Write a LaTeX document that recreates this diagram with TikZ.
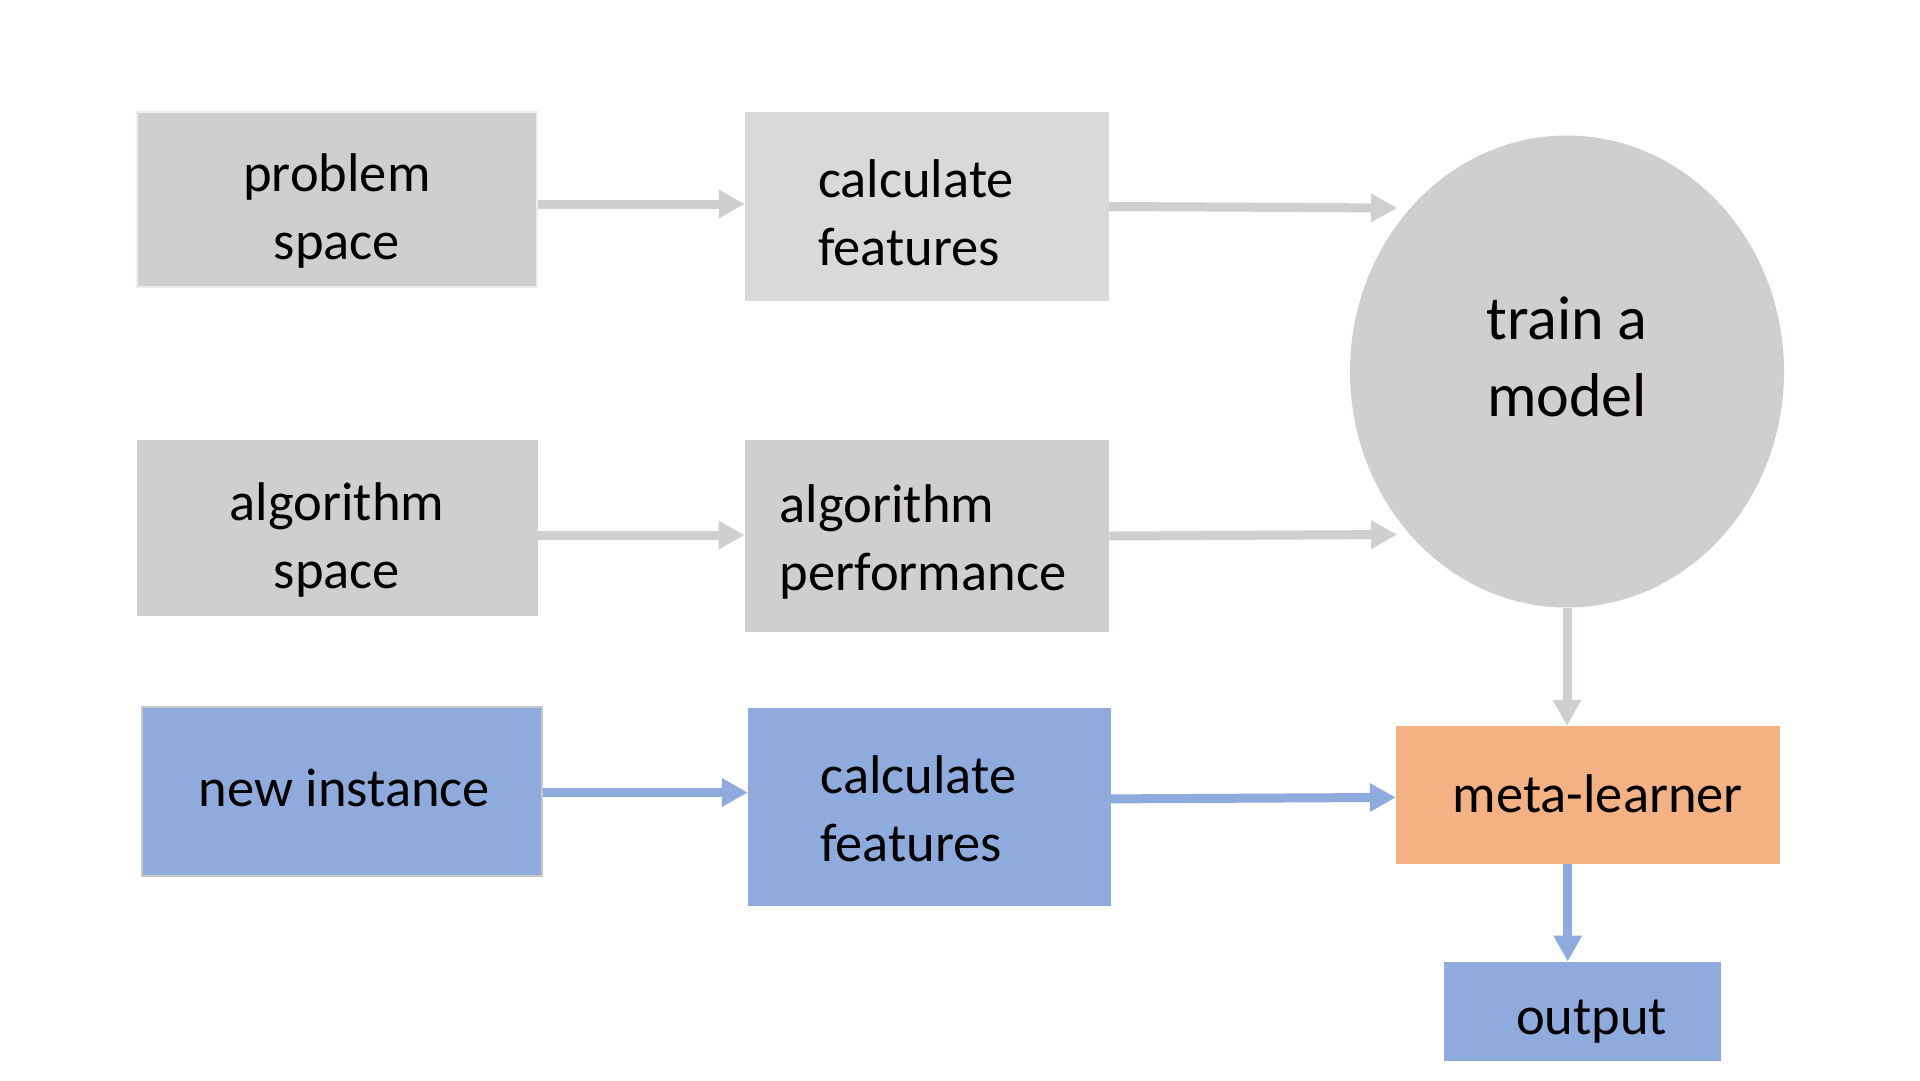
\documentclass[tikz,border=0pt]{standalone}
\usepackage{fontspec}
\setmainfont{Carlito}
\usetikzlibrary{arrows.meta,shapes.geometric}
\definecolor{gfill}{HTML}{D0CECE}
\definecolor{lfill}{HTML}{D9D9D9}
\definecolor{bfill}{HTML}{8FAADC}
\definecolor{ofill}{HTML}{F4B183}
\definecolor{gline}{HTML}{D0CECE}
\definecolor{bline}{HTML}{8FAADC}
\definecolor{pborder}{HTML}{EDEDED}
\definecolor{nborder}{HTML}{C8C8C8}
\tikzset{
  box/.style={rectangle, inner sep=0pt, text=black, font=\fontsize{54.5}{68}\selectfont},
  garrow/.style={draw=gline, line width=9pt, -{Triangle[length=26pt,width=27pt]}},
  barrow/.style={draw=bline, line width=9pt, -{Triangle[length=26pt,width=27pt]}}
}
\begin{document}
\begin{tikzpicture}[x=1pt,y=-1pt]
\fill[white] (0,0) rectangle (1920,1080);
\useasboundingbox (0,0) rectangle (1920,1080);

% row 1
\node[box, fill=gfill, draw=pborder, line width=2pt, minimum width=400pt, minimum height=175pt,
      text height=0pt, text depth=15.6pt] (prob) at (337,199.5)
      {\begin{tabular}[t]{@{}c@{}}problem\\space\end{tabular}};
\node[box, fill=lfill, minimum width=364pt, minimum height=189pt,
      text height=0pt, text depth=19pt] (cf1) at (927,206.5)
      {\begin{tabular}[t]{@{}l@{\hspace{22pt}}}calculate\\features\end{tabular}};

% row 2
\node[box, fill=gfill, minimum width=401pt, minimum height=176.5pt,
      text height=0pt, text depth=16pt] (alg) at (337,528)
      {\begin{tabular}[t]{@{}c@{}}algorithm\\space\end{tabular}};
\node[box, fill=gfill, minimum width=364.5pt, minimum height=192.5pt,
      text height=0pt, text depth=28pt] (perf) at (927,536)
      {\begin{tabular}[t]{@{}l@{\hspace{8pt}}}algorithm\\performance\end{tabular}};

% ellipse
\node[ellipse, fill=gfill, inner sep=0pt, minimum width=434pt, minimum height=472pt,
      font=\fontsize{62}{77}\selectfont, text height=0pt, text depth=65pt] (train) at (1567,371.5)
      {\begin{tabular}[t]{@{}c@{}}train a\\model\end{tabular}};

% row 3
\node[box, fill=bfill, draw=nborder, line width=2pt, minimum width=400pt, minimum height=169pt,
      text height=31pt, text depth=0pt] (newi) at (341.9,791.2)
      {\hspace*{5pt}new instance};
\node[box, fill=bfill, minimum width=362.6pt, minimum height=198.3pt,
      text height=0pt, text depth=27.8pt] (cf2) at (929.3,806.9)
      {\begin{tabular}[t]{@{}l@{\hspace{22pt}}}calculate\\features\end{tabular}};
\node[box, fill=ofill, minimum width=384pt, minimum height=137.7pt,
      text height=34.8pt, text depth=0pt] (meta) at (1588,794.9)
      {\hspace*{19.4pt}meta-learner};
\node[box, fill=bfill, minimum width=276.7pt, minimum height=99pt,
      text height=45.6pt, text depth=0pt] (out) at (1582.4,1011.2)
      {\hspace*{18.6pt}output};

% free arrow ends at the ellipse
\coordinate (t1) at (1397,208);
\coordinate (t2) at (1397,534.5);

% connectors
\draw[garrow] ([yshift=-4.5pt]prob.east) -- ([yshift=2.5pt]cf1.west);
\draw[garrow] (cf1.east) -- (t1);
\draw[garrow] ([yshift=-7pt]alg.east) -- ([yshift=1pt]perf.west);
\draw[garrow] (perf.east) -- (t2);
\draw[garrow] (train.south) -- (train.south |- meta.north);
\draw[barrow] ([yshift=-1.3pt]newi.east) -- ([yshift=-1.3pt]newi.east -| cf2.west);
\draw[barrow] ([yshift=8pt]cf2.east) -- ([yshift=-2.5pt]meta.west);
\draw[barrow] ([xshift=-20.3pt]meta.south) -- ([xshift=-20.3pt]meta.south |- out.north);
\end{tikzpicture}
\end{document}
